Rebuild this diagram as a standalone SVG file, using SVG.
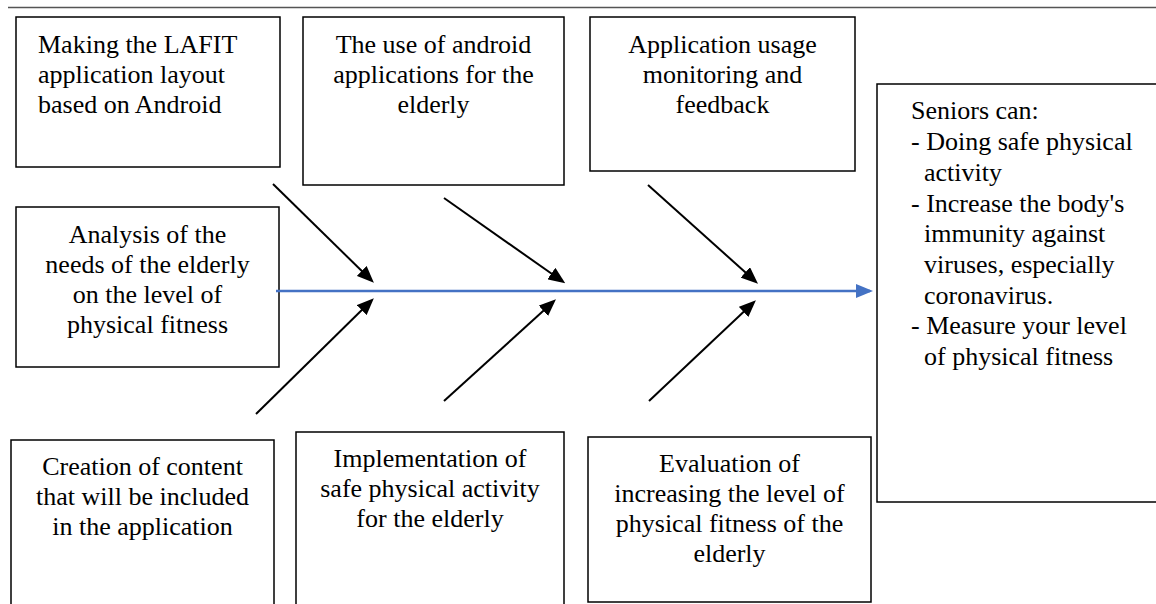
<svg xmlns="http://www.w3.org/2000/svg" width="1156" height="604" viewBox="0 0 1156 604">
<style>
.box{fill:#fff;stroke:#000;stroke-width:1.5}
.t{font-family:"Liberation Serif","Times New Roman",serif;font-size:26px;fill:#000}
.c{text-anchor:middle}
.arr{stroke:#000;stroke-width:2;fill:none;marker-end:url(#ah)}
.spine{stroke:#4472C4;stroke-width:2.5;fill:none;marker-end:url(#bh)}
</style>
<defs>
<marker id="ah" markerUnits="userSpaceOnUse" markerWidth="17" markerHeight="14" refX="13" refY="7" orient="auto">
<path d="M0,0 L17,7 L0,14 z" fill="#000"/>
</marker>
<marker id="bh" markerUnits="userSpaceOnUse" markerWidth="17" markerHeight="14" refX="14" refY="7" orient="auto">
<path d="M0,0 L17,7 L0,14 z" fill="#4472C4"/>
</marker>
</defs>
<line x1="8" y1="7.5" x2="1156" y2="7.5" stroke="#555" stroke-width="1.5"/>
<g id="n1"><rect class="box" x="16" y="17" width="264" height="150"/>
<text class="t" x="38" y="53">Making the LAFIT</text><text class="t" x="38" y="83">application layout</text><text class="t" x="38" y="113">based on Android</text></g>
<g id="n2"><rect class="box" x="303" y="17" width="261" height="168"/>
<text class="t c" x="433.5" y="53">The use of android</text><text class="t c" x="433.5" y="83">applications for the</text><text class="t c" x="433.5" y="113">elderly</text></g>
<g id="n3"><rect class="box" x="590" y="17" width="265" height="154"/>
<text class="t c" x="722.5" y="53">Application usage</text><text class="t c" x="722.5" y="83">monitoring and</text><text class="t c" x="722.5" y="113">feedback</text></g>
<g id="n4"><rect class="box" x="16" y="207" width="263" height="160"/>
<text class="t c" x="147.5" y="243">Analysis of the</text><text class="t c" x="147.5" y="273">needs of the elderly</text><text class="t c" x="147.5" y="303">on the level of</text><text class="t c" x="147.5" y="333">physical fitness</text></g>
<g id="n5"><rect class="box" x="11" y="440" width="263" height="170"/>
<text class="t c" x="142.5" y="475">Creation of content</text><text class="t c" x="142.5" y="505">that will be included</text><text class="t c" x="142.5" y="535">in the application</text></g>
<g id="n6"><rect class="box" x="296" y="432" width="268" height="178"/>
<text class="t c" x="430" y="467">Implementation of</text><text class="t c" x="430" y="497">safe physical activity</text><text class="t c" x="430" y="527">for the elderly</text></g>
<g id="n7"><rect class="box" x="588" y="437" width="283" height="165"/>
<text class="t c" x="729.5" y="472">Evaluation of</text><text class="t c" x="729.5" y="502">increasing the level of</text><text class="t c" x="729.5" y="532">physical fitness of the</text><text class="t c" x="729.5" y="562">elderly</text></g>
<g id="n8"><rect class="box" x="877" y="84" width="290" height="418"/>
<text class="t" x="911" y="119">Seniors can:</text>
<text class="t" x="911" y="150">- Doing safe physical</text>
<text class="t" x="924" y="181">activity</text>
<text class="t" x="911" y="212">- Increase the body's</text>
<text class="t" x="924" y="242">immunity against</text>
<text class="t" x="924" y="273">viruses, especially</text>
<text class="t" x="924" y="304">coronavirus.</text>
<text class="t" x="911" y="334">- Measure your level</text>
<text class="t" x="924" y="365">of physical fitness</text></g>
<g id="connectors">
<line class="spine" x1="276" y1="291" x2="870" y2="291"/>
<line class="arr" x1="273" y1="184" x2="371" y2="280"/>
<line class="arr" x1="256" y1="414" x2="371" y2="301"/>
<line class="arr" x1="444" y1="198" x2="562" y2="281"/>
<line class="arr" x1="444" y1="401" x2="553" y2="302"/>
<line class="arr" x1="648" y1="185" x2="755" y2="281"/>
<line class="arr" x1="649" y1="401" x2="753" y2="303"/>
</g>
</svg>
